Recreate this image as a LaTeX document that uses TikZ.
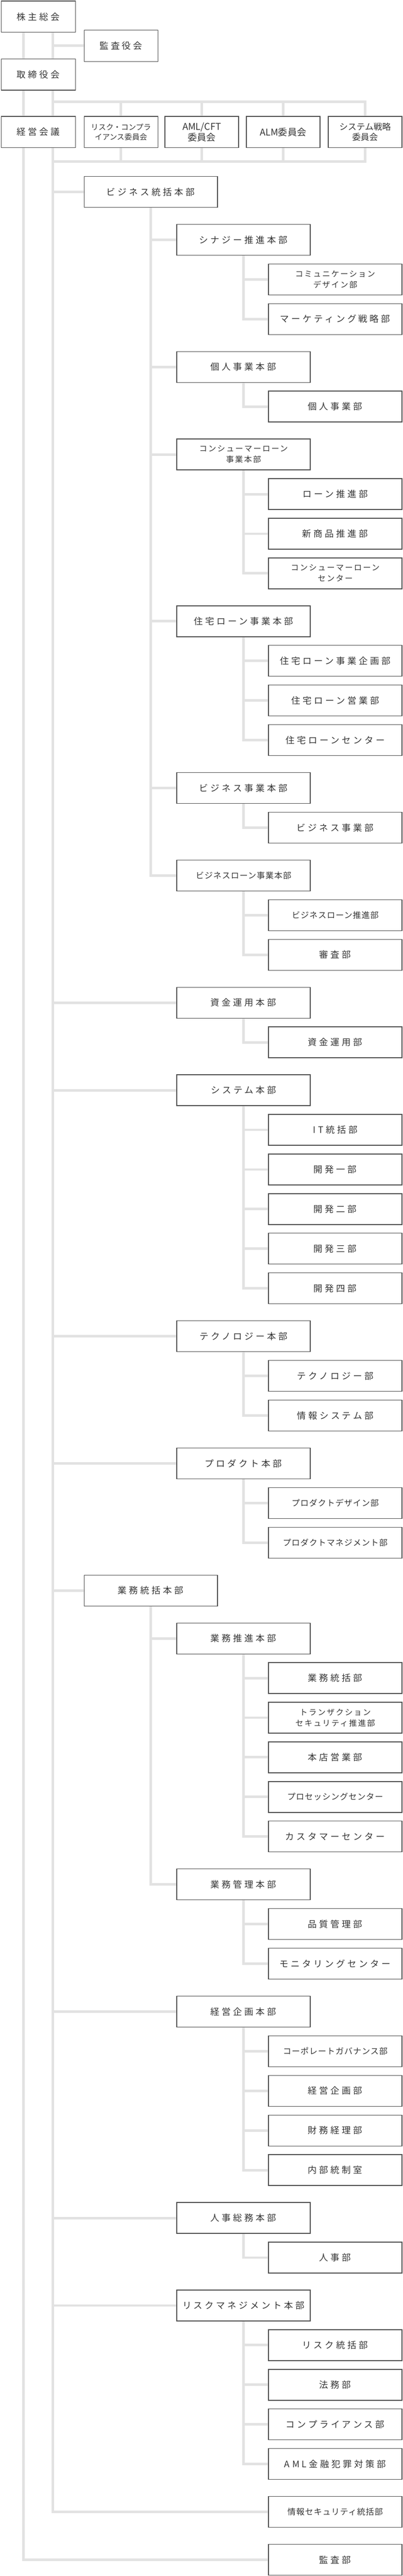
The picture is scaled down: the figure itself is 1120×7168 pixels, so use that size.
\documentclass[tikz,border=0pt]{standalone}
\usepackage{fontspec}
\newfontfamily\jp[LetterSpace=26]{Noto Sans CJK JP}
\newfontfamily\jpm[LetterSpace=14]{Noto Sans CJK JP}
\newfontfamily\jps[LetterSpace=6]{Noto Sans CJK JP}
\newfontfamily\jpt{Noto Sans CJK JP}
\definecolor{ink}{HTML}{353535}
\definecolor{bord}{HTML}{4F4F4F}
\definecolor{connc}{HTML}{E2E2E2}
\tikzset{
  box/.style={draw=bord,line width=2pt,fill=white,inner sep=0pt,align=center,text=ink,anchor=north west,minimum height=86pt,font=\jp\fontsize{25}{30}\selectfont},
  wa/.style={box,minimum width=206pt},
  wb/.style={box,minimum width=371pt},
  twoline/.style={font=\jpm\fontsize{22}{30}\selectfont},
  tightlbl/.style={font=\jps\fontsize{23}{26}\selectfont},
  combox/.style={box,minimum width=205pt,minimum height=87pt},
  conline/.style={draw=connc,line width=7pt},
}
\newcommand\bx[5]{%
  \pgfmathsetmacro\tmp{\cury+#4}\xdef\cury{\tmp}%
  \node[wb,#3] (#1) at (#2,\cury) {#5};%
  \pgfmathsetmacro\tmp{\cury+86}\xdef\cury{\tmp}}
\begin{document}
\begin{tikzpicture}[x=1pt,y=-1pt]
\useasboundingbox[fill=white] (0,0) rectangle (1120,7168);
\coordinate (t1) at (65,0);
\coordinate (t2) at (147,0);
\coordinate (cy1) at (0,283);
\coordinate (cy2) at (0,450);
% top
\node[wa,minimum height=87pt] (kabu) at (3,2) {株主総会};
\node[combox] (kansayaku) at (233,83) {監査役会};
\node[wa,minimum height=87pt] (tori) at (3,163) {取締役会};
\node[wa,minimum height=87pt] (keiei) at (3,323) {経営会議};
\node[combox,font=\jpt\fontsize{21}{28}\selectfont] (c1) at (233,323) {リスク・コンプラ\\イアンス委員会};
\node[combox,font=\jpt\fontsize{26}{30}\selectfont] (c2) at (458,323) {AML/CFT\\委員会};
\node[combox,font=\jpt\fontsize{26}{30}\selectfont] (c3) at (684,323) {ALM委員会};
\node[combox,font=\jpt\fontsize{24}{29}\selectfont] (c4) at (912,323) {システム戦略\\委員会};
% body
\xdef\cury{490}
\def\La{233}\def\Lb{491}\def\Lc{746}
\def\S{24.25}\def\L{47.3}
\bx{biz}{\La}{}{0}{ビジネス統括本部}
\bx{syn}{\Lb}{}{\L}{シナジー推進本部}
\bx{comm}{\Lc}{twoline}{\S}{コミュニケーション\\デザイン部}
\bx{mkt}{\Lc}{}{\S}{マーケティング戦略部}
\bx{kojin}{\Lb}{}{\L}{個人事業本部}
\bx{kojinb}{\Lc}{}{\S}{個人事業部}
\bx{cons}{\Lb}{twoline}{\L}{コンシューマーローン\\事業本部}
\bx{loan}{\Lc}{}{\S}{ローン推進部}
\bx{shin}{\Lc}{}{\S}{新商品推進部}
\bx{consc}{\Lc}{twoline}{\S}{コンシューマーローン\\センター}
\bx{jutaku}{\Lb}{}{\L}{住宅ローン事業本部}
\bx{jk}{\Lc}{}{\S}{住宅ローン事業企画部}
\bx{je}{\Lc}{}{\S}{住宅ローン営業部}
\bx{jc}{\Lc}{}{\S}{住宅ローンセンター}
\bx{bj}{\Lb}{}{\L}{ビジネス事業本部}
\bx{bjb}{\Lc}{}{\S}{ビジネス事業部}
\bx{bl}{\Lb}{tightlbl}{\L}{ビジネスローン事業本部}
\bx{blp}{\Lc}{tightlbl}{\S}{ビジネスローン推進部}
\bx{shinsa}{\Lc}{}{\S}{審査部}
\bx{shikin}{\Lb}{}{\L}{資金運用本部}
\bx{shikinb}{\Lc}{}{\S}{資金運用部}
\bx{sys}{\Lb}{}{\L}{システム本部}
\bx{it}{\Lc}{}{\S}{IT統括部}
\bx{ka}{\Lc}{}{\S}{開発一部}
\bx{kb}{\Lc}{}{\S}{開発二部}
\bx{kc}{\Lc}{}{\S}{開発三部}
\bx{kd}{\Lc}{}{\S}{開発四部}
\bx{tech}{\Lb}{}{\L}{テクノロジー本部}
\bx{techb}{\Lc}{}{\S}{テクノロジー部}
\bx{jsys}{\Lc}{}{\S}{情報システム部}
\bx{prod}{\Lb}{}{\L}{プロダクト本部}
\bx{pd}{\Lc}{tightlbl}{\S}{プロダクトデザイン部}
\bx{pm}{\Lc}{tightlbl}{\S}{プロダクトマネジメント部}
\bx{gyomu}{\La}{}{\L}{業務統括本部}
\bx{gs}{\Lb}{}{\L}{業務推進本部}
\bx{gt}{\Lc}{}{\S}{業務統括部}
\bx{tr}{\Lc}{twoline}{\S}{トランザクション\\セキュリティ推進部}
\bx{honten}{\Lc}{}{\S}{本店営業部}
\bx{proc}{\Lc}{tightlbl}{\S}{プロセッシングセンター}
\bx{cust}{\Lc}{}{\S}{カスタマーセンター}
\bx{gk}{\Lb}{}{\L}{業務管理本部}
\bx{hin}{\Lc}{}{\S}{品質管理部}
\bx{mon}{\Lc}{}{\S}{モニタリングセンター}
\bx{kk}{\Lb}{}{\L}{経営企画本部}
\bx{cg}{\Lc}{tightlbl}{\S}{コーポレートガバナンス部}
\bx{kkb}{\Lc}{}{\S}{経営企画部}
\bx{zaimu}{\Lc}{}{\S}{財務経理部}
\bx{naibu}{\Lc}{}{\S}{内部統制室}
\bx{jinji}{\Lb}{}{\L}{人事総務本部}
\bx{jinjib}{\Lc}{}{\S}{人事部}
\bx{risk}{\Lb}{}{\L}{リスクマネジメント本部}
\bx{rt}{\Lc}{}{\S}{リスク統括部}
\bx{homu}{\Lc}{}{\S}{法務部}
\bx{comp}{\Lc}{}{\S}{コンプライアンス部}
\bx{aml}{\Lc}{}{\S}{AML金融犯罪対策部}
\bx{joho}{\Lc}{tightlbl}{\L}{情報セキュリティ統括部}
\bx{kansabu}{\Lc}{}{\L}{監査部}
% connectors
\draw[conline] (kabu.south -| t1) -- (tori.north -| t1);
\draw[conline] (tori.south -| t1) -- (keiei.north -| t1);
\draw[conline] (keiei.south -| t1) |- (kansabu.west);
\draw[conline] (kabu.south -| t2) -- (tori.north -| t2);
\draw[conline] (t2 |- kansayaku.west) -- (kansayaku.west);
\draw[conline] (tori.south -| t2) -- (keiei.north -| t2);
\draw[conline] (t2 |- cy1) -| (c4.north);
\draw[conline] (c1.north |- cy1) -- (c1.north);
\draw[conline] (c2.north |- cy1) -- (c2.north);
\draw[conline] (c3.north |- cy1) -- (c3.north);
\draw[conline] (keiei.south -| t2) |- (joho.west);
\draw[conline] (t2 |- cy2) -| (c4.south);
\draw[conline] (c1.south |- cy2) -- (c1.south);
\draw[conline] (c2.south |- cy2) -- (c2.south);
\draw[conline] (c3.south |- cy2) -- (c3.south);
\foreach \n in {biz,shikin,sys,tech,prod,gyomu,kk,jinji,risk}
  \draw[conline] (t2 |- \n.west) -- (\n.west);
% L2 trunks
\draw[conline] (biz.south) |- (bl.west);
\foreach \n in {syn,kojin,cons,jutaku,bj}
  \draw[conline] (biz.south |- \n.west) -- (\n.west);
\draw[conline] (gyomu.south) |- (gk.west);
\draw[conline] (gyomu.south |- gs.west) -- (gs.west);
% L3 trunks
\draw[conline] (syn.south) |- (mkt.west);
\draw[conline] (syn.south |- comm.west) -- (comm.west);
\draw[conline] (kojin.south) |- (kojinb.west);
\draw[conline] (cons.south) |- (consc.west);
\foreach \n in {loan,shin} \draw[conline] (cons.south |- \n.west) -- (\n.west);
\draw[conline] (jutaku.south) |- (jc.west);
\foreach \n in {jk,je} \draw[conline] (jutaku.south |- \n.west) -- (\n.west);
\draw[conline] (bj.south) |- (bjb.west);
\draw[conline] (bl.south) |- (shinsa.west);
\draw[conline] (bl.south |- blp.west) -- (blp.west);
\draw[conline] (shikin.south) |- (shikinb.west);
\draw[conline] (sys.south) |- (kd.west);
\foreach \n in {it,ka,kb,kc} \draw[conline] (sys.south |- \n.west) -- (\n.west);
\draw[conline] (tech.south) |- (jsys.west);
\draw[conline] (tech.south |- techb.west) -- (techb.west);
\draw[conline] (prod.south) |- (pm.west);
\draw[conline] (prod.south |- pd.west) -- (pd.west);
\draw[conline] (gs.south) |- (cust.west);
\foreach \n in {gt,tr,honten,proc} \draw[conline] (gs.south |- \n.west) -- (\n.west);
\draw[conline] (gk.south) |- (mon.west);
\draw[conline] (gk.south |- hin.west) -- (hin.west);
\draw[conline] (kk.south) |- (naibu.west);
\foreach \n in {cg,kkb,zaimu} \draw[conline] (kk.south |- \n.west) -- (\n.west);
\draw[conline] (jinji.south) |- (jinjib.west);
\draw[conline] (risk.south) |- (aml.west);
\foreach \n in {rt,homu,comp} \draw[conline] (risk.south |- \n.west) -- (\n.west);
\end{tikzpicture}
\end{document}
